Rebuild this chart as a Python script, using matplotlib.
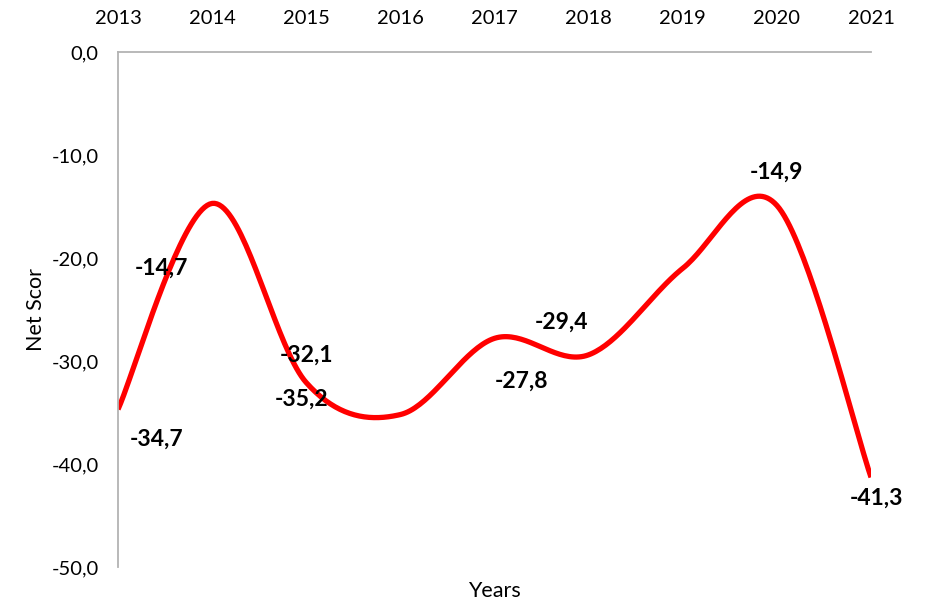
import numpy as np
import matplotlib
matplotlib.use("Agg")
import matplotlib.pyplot as plt

years = ["2013", "2014", "2015", "2016", "2017", "2018", "2019", "2020", "2021"]
net_score = [-34.7, -14.7, -32.1, -35.2, -27.8, -29.4, -21.0, -14.9, -41.3]
# which points carry a data label (2019 has none in the source)
show_label = [True, True, True, True, True, True, False, True, True]
# label offsets from the point, in pixels (dx, dy)
label_offsets = [(39, -30), (-51, -65), (0, 27), (-99, 15), (27, -43),
                 (-27, 33), (0, 0), (0, 33), (5, -21)]
y_ticks = [0, -10, -20, -30, -40, -50]

plt.rcParams['font.family'] = ['Lato', 'DejaVu Sans']


def smooth_line(px, py, n=40, cap=1 / 2):
    # office-style smoothed line: Catmull-Rom Bezier (tension 1/6),
    # control arms capped relative to the segment length (pixel space)
    P = np.column_stack([px, py]).astype(float)
    P = np.vstack([P[0], P, P[-1]])
    t = np.linspace(0, 1, n)[:, None]
    out = []
    f = 1 / 6
    for i in range(1, len(P) - 2):
        p0, p1, p2, p3 = P[i - 1], P[i], P[i + 1], P[i + 2]
        d02 = np.hypot(*(p2 - p0))
        d12 = np.hypot(*(p2 - p1))
        d13 = np.hypot(*(p3 - p1))
        f0 = f1 = f
        if d02 * f >= d12 * cap and d02 > 0:
            f0 = d12 * cap / d02
        if d13 * f >= d12 * cap and d13 > 0:
            f1 = d12 * cap / d13
        c1 = p1 + (p2 - p0) * f0
        c2 = p2 - (p3 - p1) * f1
        b = (1 - t) ** 3 * p1 + 3 * (1 - t) ** 2 * t * c1 \
            + 3 * (1 - t) * t ** 2 * c2 + t ** 3 * p2
        out.append(b)
    return np.vstack(out)


fig = plt.figure(figsize=(9.3, 6.04), dpi=100)
ax = fig.add_axes([0.1269, 0.0613, 0.8097, 0.8526])
ax.set_xlim(0, len(years) - 1)
ax.set_ylim(-50, 0)

xi = np.arange(len(years))
# smooth in display space, then go back to data coords
disp = ax.transData.transform(np.column_stack([xi, net_score]))
curve = ax.transData.inverted().transform(smooth_line(disp[:, 0], disp[:, 1]))
ax.plot(curve[:, 0], curve[:, 1], color='#ff0000', linewidth=3.8,
        solid_capstyle='butt')

for i, v in enumerate(net_score):
    if not show_label[i]:
        continue
    dx, dy = label_offsets[i]
    ax.annotate(f"{v:.1f}".replace('.', ','), (xi[i], v), xytext=(dx, dy),
                textcoords='offset pixels', ha='center', va='center',
                fontsize=16.5, fontweight='bold', color='black')

ax.xaxis.tick_top()
ax.set_xticks(xi)
ax.set_xticklabels(years)
ax.set_yticks(y_ticks)
ax.set_yticklabels([f"{v:.1f}".replace('.', ',') for v in y_ticks])
ax.tick_params(axis='both', length=0, labelsize=14.5, colors='black')
ax.tick_params(axis='x', pad=18)
ax.tick_params(axis='y', pad=14)

for s in ['right', 'bottom']:
    ax.spines[s].set_visible(False)
for s in ['top', 'left']:
    ax.spines[s].set_color('#b3b3b3')
    ax.spines[s].set_linewidth(1.3)

ax.set_ylabel("Net Scor", fontsize=15.5, labelpad=4)
ax.set_xlabel("Years", fontsize=15.5, labelpad=10)

fig.savefig("out.png", dpi=100)
